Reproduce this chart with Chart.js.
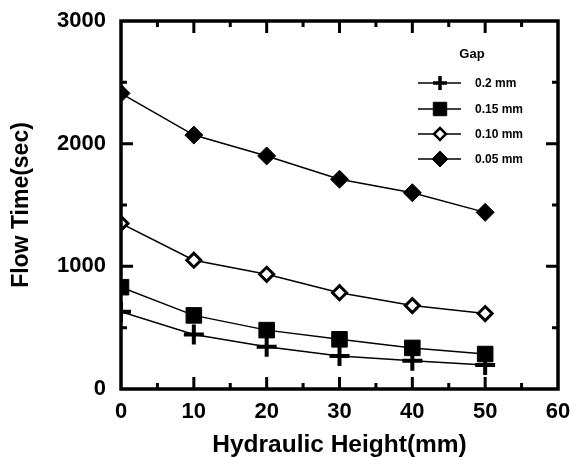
<!DOCTYPE html>
<html>
<head>
<meta charset="utf-8">
<script src="https://cdn.jsdelivr.net/npm/chart.js@4"></script>
<style>
  body{margin:0;background:#fff;}
  #myChart{display:block;}
</style>
</head>
<body>
<canvas id="myChart" width="572" height="457"></canvas>
<script>
const heights = [0, 10, 20, 30, 40, 50];
const gapLabels = ['0.2 mm', '0.15 mm', '0.10 mm', '0.05 mm'];
const gap020 = [630, 445, 345, 270, 230, 195];
const gap015 = [830, 600, 480, 405, 335, 285];
const gap010 = [1350, 1050, 935, 785, 680, 615];
const gap005 = [2410, 2070, 1900, 1710, 1600, 1440];
const xTicks = [0, 10, 20, 30, 40, 50, 60];
const yTicks = [0, 1000, 2000, 3000];

const toPoints = (vals) => vals.map((v, i) => ({x: heights[i], y: v}));

const font = 'Liberation Sans, Arial, Helvetica, sans-serif';

const data = {
  datasets: [{
    label: gapLabels[0],
    data: toPoints(gap020),
    pointStyle: 'cross',
    pointRadius: 10,
    pointBorderWidth: 4,
    legendRadius: 7,
    legendBorder: 3.5
  }, {
    label: gapLabels[1],
    data: toPoints(gap015),
    pointStyle: 'rect',
    pointRadius: 11,
    pointBorderWidth: 1,
    legendRadius: 9.5,
    legendBorder: 1
  }, {
    label: gapLabels[2],
    data: toPoints(gap010),
    pointStyle: 'rectRot',
    pointRadius: 7,
    pointBorderWidth: 3,
    pointBackgroundColor: '#fff',
    legendRadius: 6,
    legendBorder: 2.5
  }, {
    label: gapLabels[3],
    data: toPoints(gap005),
    pointStyle: 'rectRot',
    pointRadius: 9,
    pointBorderWidth: 1,
    legendRadius: 8,
    legendBorder: 1
  }]
};
data.datasets.forEach(ds => {
  ds.borderColor = '#000';
  ds.borderWidth = 1.5;
  ds.pointBorderColor = '#000';
  if (!ds.pointBackgroundColor) ds.pointBackgroundColor = '#000';
  ds.pointHoverRadius = ds.pointRadius;
  ds.tension = 0;
});

// frame with inward ticks on all four sides
const framePlugin = {
  id: 'frame',
  afterDraw(chart) {
    const ctx = chart.ctx;
    const a = chart.chartArea;
    const xs = chart.scales.x, ys = chart.scales.y;
    ctx.save();
    ctx.strokeStyle = '#000';
    ctx.lineWidth = 3.5;
    ctx.lineJoin = 'miter';
    ctx.strokeRect(a.left, a.top, a.right - a.left, a.bottom - a.top);
    ctx.lineWidth = 3;
    ctx.beginPath();
    for (let v = 5; v < 60; v += 5) {
      const px = xs.getPixelForValue(v);
      const len = v % 10 === 0 ? 12 : 6;
      ctx.moveTo(px, a.bottom); ctx.lineTo(px, a.bottom - len);
      ctx.moveTo(px, a.top); ctx.lineTo(px, a.top + len);
    }
    for (let v = 500; v < 3000; v += 500) {
      const py = ys.getPixelForValue(v);
      const len = v % 1000 === 0 ? 12 : 6;
      ctx.moveTo(a.left, py); ctx.lineTo(a.left + len, py);
      ctx.moveTo(a.right, py); ctx.lineTo(a.right - len, py);
    }
    ctx.stroke();
    ctx.restore();
  }
};

// legend box in the top right corner of the plot
const legendPlugin = {
  id: 'gapLegend',
  afterDraw(chart) {
    const ctx = chart.ctx;
    ctx.save();
    ctx.fillStyle = '#000';
    ctx.textBaseline = 'middle';
    ctx.textAlign = 'center';
    ctx.font = 'bold 13px ' + font;
    ctx.fillText('Gap', 472, 54);
    const rows = [83, 109, 134, 159];
    chart.data.datasets.forEach((ds, i) => {
      const y = rows[i];
      ctx.strokeStyle = '#000';
      ctx.lineWidth = 1.5;
      ctx.beginPath();
      ctx.moveTo(418, y); ctx.lineTo(461, y);
      ctx.stroke();
      ctx.fillStyle = ds.pointBackgroundColor;
      ctx.strokeStyle = '#000';
      ctx.lineWidth = ds.legendBorder;
      Chart.helpers.drawPoint(ctx, {pointStyle: ds.pointStyle, radius: ds.legendRadius, rotation: 0, borderWidth: ds.legendBorder}, 440, y);
      ctx.fillStyle = '#000';
      ctx.textAlign = 'left';
      ctx.font = 'bold 12px ' + font;
      ctx.fillText(ds.label, 475, y + 1);
    });
    ctx.restore();
  }
};

const config = {
  type: 'line',
  data: data,
  options: {
    responsive: false,
    animation: false,
    devicePixelRatio: 1,
    layout: {padding: {left: 0, right: 12, top: 21, bottom: 0}},
    plugins: {
      legend: {display: false},
      tooltip: {enabled: false}
    },
    scales: {
      x: {
        type: 'linear',
        min: 0,
        max: 60,
        afterFit: (s) => { s.height = 68; s.paddingLeft = 0; s.paddingRight = 0; },
        afterBuildTicks: (s) => { s.ticks = xTicks.map(v => ({value: v})); },
        grid: {display: false, drawTicks: false},
        border: {display: false},
        ticks: {
          color: '#000',
          padding: 10,
          maxRotation: 0,
          callback: (v) => String(v),
          font: {family: font, size: 22, weight: 'bold'}
        },
        title: {
          display: true,
          text: 'Hydraulic Height(mm)',
          color: '#000',
          padding: {top: 0, bottom: 0},
          font: {family: font, size: 24.5, weight: 'bold', lineHeight: 1}
        }
      },
      y: {
        type: 'linear',
        min: 0,
        max: 3000,
        afterFit: (s) => { s.width = 121; s.paddingTop = 0; s.paddingBottom = 0; },
        afterBuildTicks: (s) => { s.ticks = yTicks.map(v => ({value: v})); },
        grid: {display: false, drawTicks: false},
        border: {display: false},
        ticks: {
          color: '#000',
          padding: 15,
          callback: (v) => String(v),
          font: {family: font, size: 22, weight: 'bold'}
        },
        title: {
          display: true,
          text: 'Flow Time(sec)',
          color: '#000',
          padding: {top: 10, bottom: 0},
          font: {family: font, size: 23, weight: 'bold', lineHeight: 1}
        }
      }
    }
  },
  plugins: [framePlugin, legendPlugin]
};

const myChart = new Chart(document.getElementById('myChart'), config);
</script>
</body>
</html>
